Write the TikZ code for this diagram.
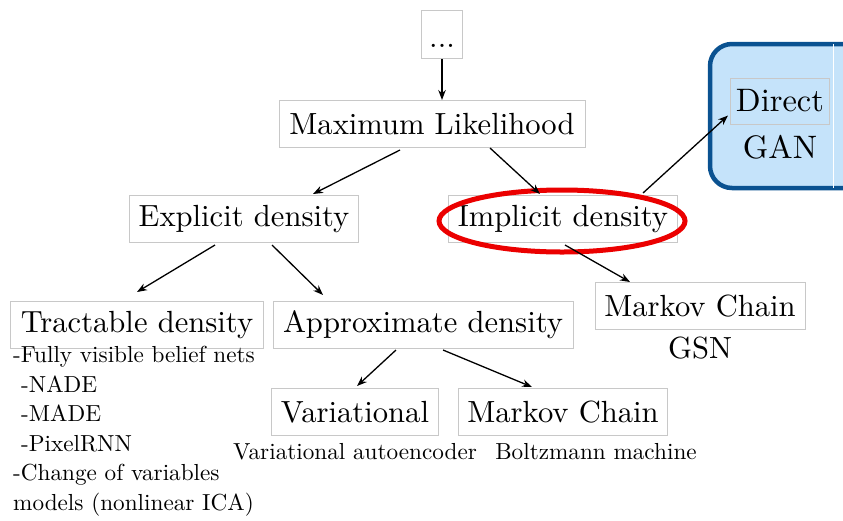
\documentclass[tikz,border=0pt]{standalone}
\usepackage{fontspec}
\setmainfont{lmroman10-regular.otf}
\usetikzlibrary{arrows.meta,calc}
\definecolor{boxgray}{RGB}{200,200,200}
\definecolor{ganfill}{RGB}{197,227,250}
\definecolor{ganborder}{RGB}{10,82,145}
\definecolor{ringred}{RGB}{235,0,0}
\tikzset{
  bx/.style={draw=boxgray, line width=1pt, inner xsep=9pt, minimum height=47pt, inner ysep=0pt,
    font=\fontsize{30.6}{36}\selectfont},
  lbl/.style={inner sep=0pt, font=\fontsize{30.6}{36}\selectfont},
  small/.style={inner sep=0pt, font=\fontsize{23.2}{29.6}\selectfont},
  arr/.style={-{Stealth[length=10pt,width=7.5pt]}, line width=1.3pt, black},
}
\begin{document}
\begin{tikzpicture}[x=1pt,y=-1pt]
\useasboundingbox (0,0) rectangle (843,520);
% GAN highlight box
\begin{scope}
\clip (0,0) rectangle (843,520);
\draw[ganborder, fill=ganfill, line width=4.5pt, rounded corners=22pt] (710,44) rectangle (870,188);
\draw[white, line width=1pt] (833,44) -- (833,188);
\end{scope}

\node[bx, minimum width=41pt, minimum height=0pt, inner xsep=0pt, text height=37pt, text depth=11pt, anchor=north] (dots) at (442,10) {...};
\node[bx, minimum width=306pt] (ml) at (432,124) {Maximum Likelihood};
\node[bx, minimum width=228pt] (exp) at (244,219) {Explicit density};
\node[bx, minimum width=229pt] (imp) at (563,219) {Implicit density};
\node[bx, minimum width=99pt, minimum height=46pt, inner xsep=3pt, font=\fontsize{32.5}{38}\selectfont] (dir) at (780,101) {Direct};
\node[lbl, font=\fontsize{32.5}{38}\selectfont] (gan) at (780,147) {GAN};
\node[bx, minimum width=210pt] (mc1) at (700,306) {Markov Chain};
\node[lbl] (gsn) at (700,348) {GSN};
\node[bx, minimum width=253pt, inner xsep=5pt] (tra) at (137,325) {Tractable density};
\node[bx, minimum width=300pt] (app) at (423,325) {Approximate density};
\node[bx, minimum width=165pt] (var) at (355,412) {Variational};
\node[bx, minimum width=209pt] (mc2) at (563,412) {Markov Chain};
\node[small] (vae) at (355,452) {Variational autoencoder};
\node[small] (bm) at (596,452) {Boltzmann machine};
\node[small, anchor=north west, align=left] (list) at (13,346)
  {-Fully visible belief nets\\
   \hspace*{8pt}-NADE\\
   \hspace*{8pt}-MADE\\
   \hspace*{8pt}-PixelRNN\\
   -Change of variables\\
   models (nonlinear ICA)};

\draw[ringred, line width=5pt] (562,221) ellipse [x radius=123, y radius=31];

\draw[arr] (dots.south) -- (dots.south |- ml.north);
\draw[arr] ($(ml.south)+(-32,2)$) -- ($(exp.north)+(69,-1)$);
\draw[arr] ($(ml.south)+(58,0)$) -- ($(imp.north)+(-23,-1)$);
\draw[arr] ($(exp.south)+(-29,2)$) -- ($(tra.north)+(0,-9)$);
\draw[arr] ($(exp.south)+(28,2)$) -- ($(app.north)+(-100,-6)$);
\draw[arr] ($(imp.south)+(2,2)$) -- ($(mc1.north)+(-70,0)$);
\draw[arr] ($(imp.north)+(80,-2)$) -- ($(dir.south west)+(-2,-9)$);
\draw[arr] ($(app.south)+(-27,1)$) -- ($(var.north)+(2,-2)$);
\draw[arr] ($(app.south)+(20,1)$) -- ($(mc2.north)+(-31,-1)$);
\end{tikzpicture}
\end{document}
